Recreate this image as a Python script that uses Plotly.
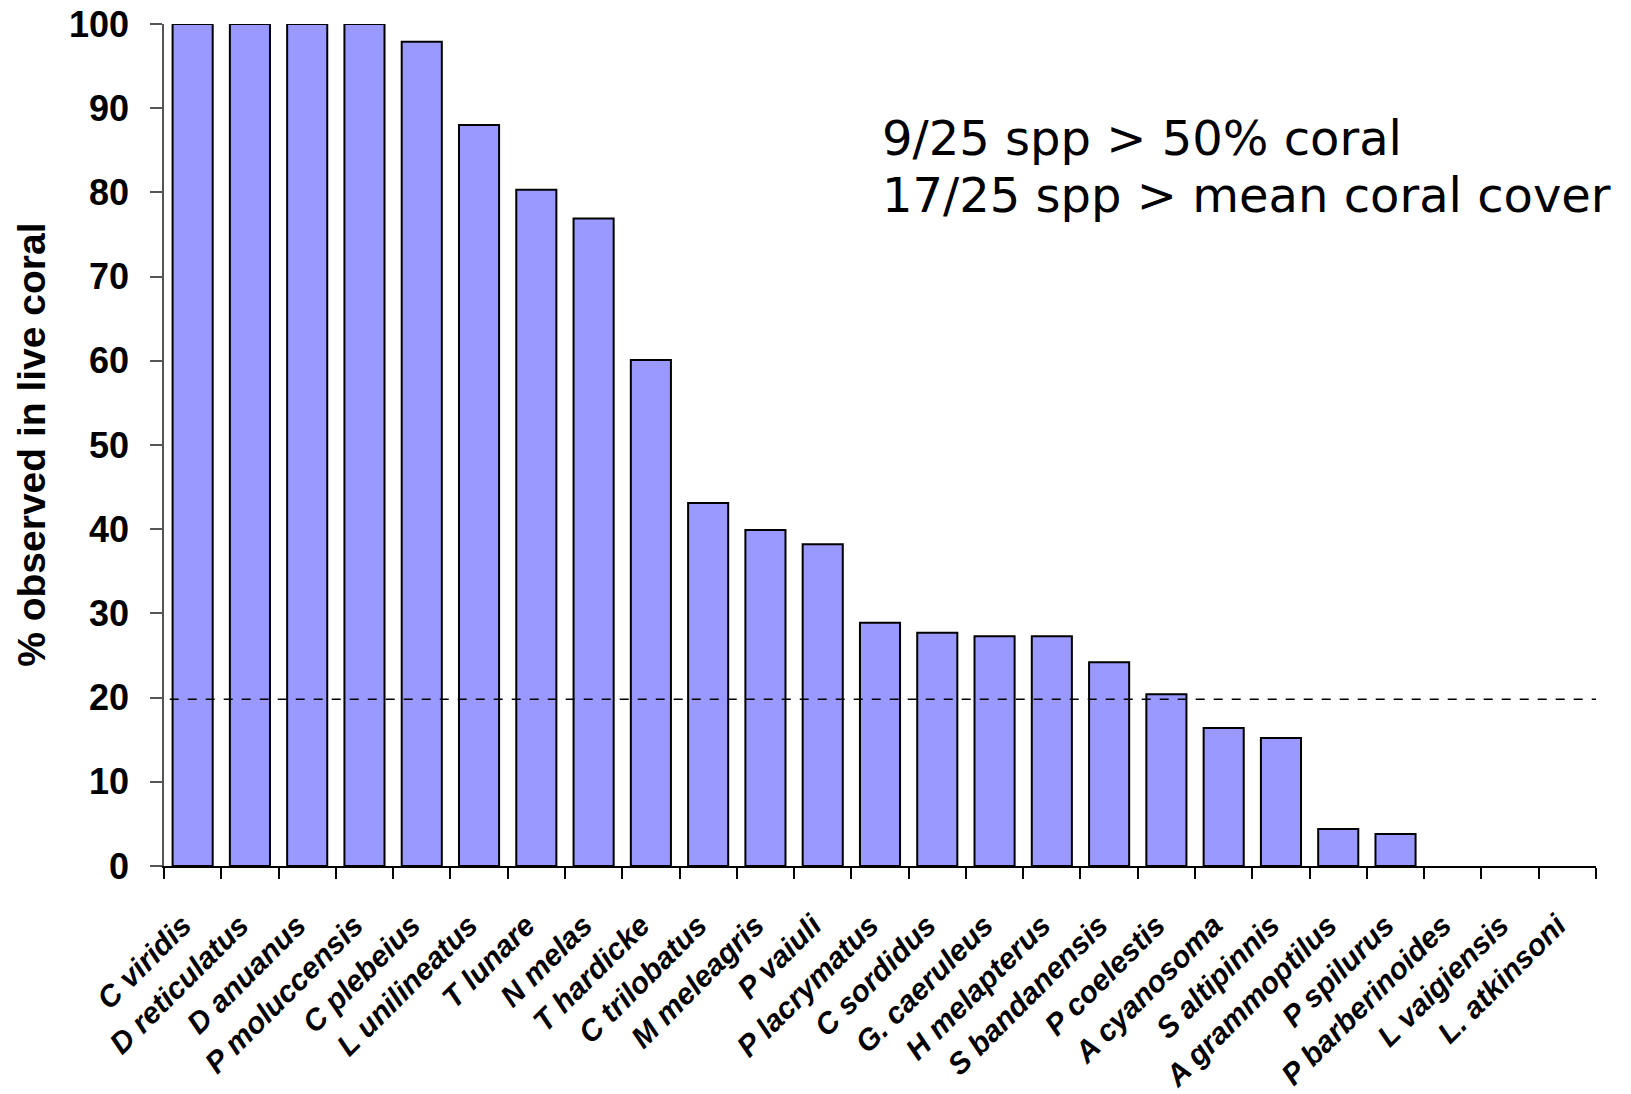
import plotly.graph_objects as go

species = [
    "C viridis", "D reticulatus", "D anuanus", "P moluccensis", "C plebeius",
    "L unilineatus", "T lunare", "N melas", "T hardicke", "C trilobatus",
    "M meleagris", "P vaiuli", "P lacrymatus", "C sordidus", "G. caeruleus",
    "H melapterus", "S bandanensis", "P coelestis", "A cyanosoma", "S altipinnis",
    "A grammoptilus", "P spilurus", "P barberinoides", "L vaigiensis", "L. atkinsoni",
]
pct_live_coral = [
    100, 100, 100, 100, 97.9,
    88.0, 80.3, 76.9, 60.1, 43.1,
    39.9, 38.2, 28.9, 27.7, 27.3,
    27.3, 24.2, 20.4, 16.4, 15.2,
    4.4, 3.8, 0, 0, 0,
]
mean_coral_cover = 19.8
y_ticks = list(range(0, 101, 10))
notes = ["9/25 spp > 50% coral", "17/25 spp > mean coral cover"]

# no outline on empty bars (Excel draws nothing there)
outline_w = [2 if v > 0 else 0 for v in pct_live_coral]

fig = go.Figure()
fig.add_trace(go.Bar(
    x=species, y=pct_live_coral,
    marker=dict(color="#9999FF", line=dict(color="black", width=outline_w)),
))

# mean coral cover reference line
fig.add_shape(
    type="line", xref="paper", yref="y",
    x0=0.004, x1=1, y0=mean_coral_cover, y1=mean_coral_cover,
    line=dict(color="black", width=1.5, dash="dash"),
)

fig.add_annotation(
    text="% observed in live coral", textangle=-90,
    xref="paper", yref="paper", x=-0.093, y=0.5,
    showarrow=False, xanchor="center", yanchor="middle",
    font=dict(family="Liberation Sans", size=39, color="black", weight="bold"),
)

for note, ypos in zip(notes, [0.865, 0.797]):
    fig.add_annotation(
        text=note, xref="paper", yref="paper", x=0.5, y=ypos,
        showarrow=False, xanchor="left", yanchor="middle",
        font=dict(family="DejaVu Sans", size=48, color="black"),
    )

# page body has an 8px margin, so the figure is a bit smaller than the window
fig.update_layout(
    width=1623, height=1086,
    margin=dict(l=156, r=35, t=16, b=228),
    plot_bgcolor="white", paper_bgcolor="white",
    bargap=0.3, showlegend=False,
)
fig.update_xaxes(
    type="category", tickson="boundaries", automargin=False,
    ticks="outside", ticklen=11, tickcolor="black", tickwidth=1.5,
    showline=True, linecolor="black", linewidth=1.5,
    showgrid=False, tickangle=-45, ticklabelstandoff=28, ticklabelshift=-10,
    tickfont=dict(family="Liberation Sans", size=30, color="black",
                  weight="bold", style="italic"),
)
fig.update_yaxes(
    range=[0, 100], tickvals=y_ticks, automargin=False,
    ticklabeloverflow="allow",
    ticks="outside", ticklen=12, tickcolor="#555", tickwidth=1.5,
    showline=True, linecolor="#555", linewidth=1.5,
    showgrid=False, zeroline=False, ticklabelstandoff=14,
    tickfont=dict(family="Liberation Sans", size=36, color="black", weight="bold"),
)

fig.write_html("out.html")
